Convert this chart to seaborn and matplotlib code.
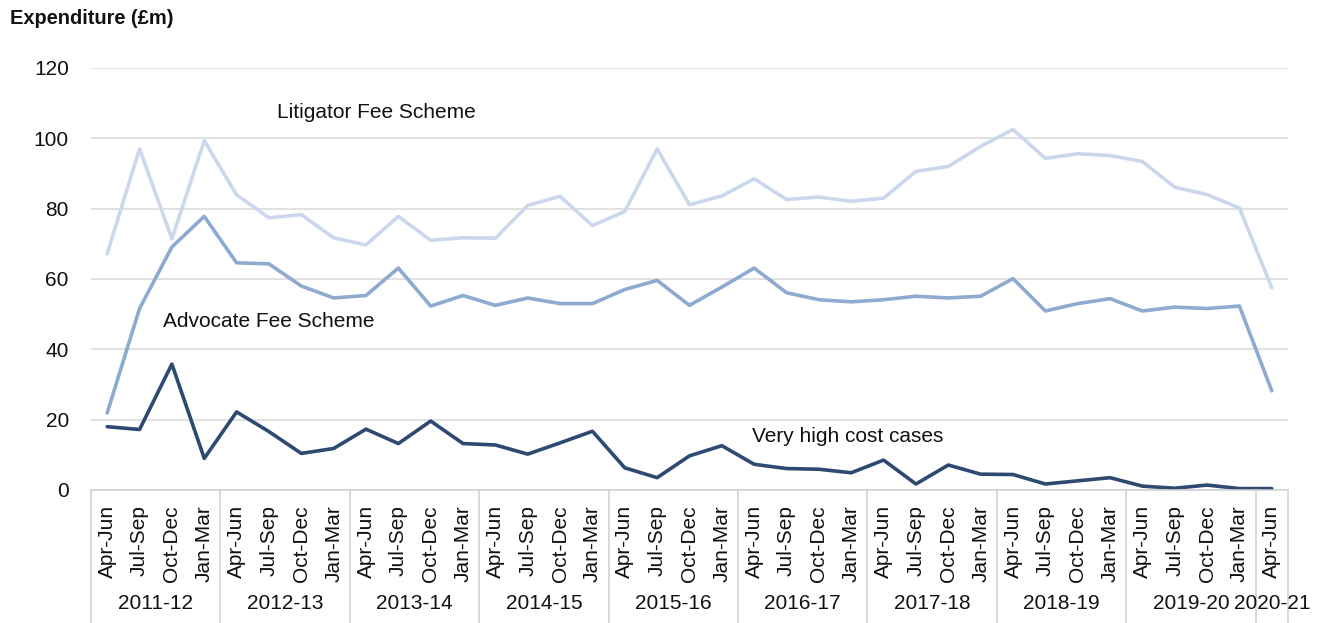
import seaborn as sns
import matplotlib.pyplot as plt
import matplotlib.transforms as mtransforms
import pandas as pd
import numpy as np

# ---------------------------
# Data (£m per quarter)
# ---------------------------
years = ["2011-12", "2012-13", "2013-14", "2014-15", "2015-16",
         "2016-17", "2017-18", "2018-19", "2019-20", "2020-21"]
quarters = ["Apr-Jun", "Jul-Sep", "Oct-Dec", "Jan-Mar"]
quarter_labels = quarters * 9 + ["Apr-Jun"]

litigator = [67.2, 97.0, 71.4, 99.3, 83.9, 77.4, 78.3, 71.7, 69.7, 77.8,
             71.0, 71.7, 71.6, 80.9, 83.5, 75.2, 79.2, 97.0, 81.1, 83.6,
             88.5, 82.6, 83.3, 82.1, 83.0, 90.6, 92.0, 97.7, 102.5, 94.3,
             95.6, 95.1, 93.4, 86.1, 84.0, 80.2, 57.5]
advocate = [21.9, 51.6, 69.1, 77.8, 64.6, 64.3, 58.0, 54.6, 55.3, 63.1,
            52.3, 55.3, 52.5, 54.6, 53.0, 53.0, 57.0, 59.6, 52.5, 57.7,
            63.1, 56.1, 54.1, 53.5, 54.1, 55.1, 54.6, 55.1, 60.1, 50.9,
            53.0, 54.4, 50.9, 52.0, 51.6, 52.3, 28.2]
vhcc = [18.0, 17.2, 35.8, 9.0, 22.2, 16.6, 10.4, 11.8, 17.3, 13.2,
        19.6, 13.2, 12.8, 10.2, 13.4, 16.7, 6.3, 3.5, 9.7, 12.6,
        7.3, 6.1, 5.9, 4.9, 8.5, 1.7, 7.1, 4.5, 4.4, 1.7,
        2.6, 3.5, 1.1, 0.5, 1.4, 0.4, 0.4]

series_names = ["Litigator Fee Scheme", "Advocate Fee Scheme", "Very high cost cases"]
colors = ["#cbd8ec", "#8eaad1", "#2e4a73"]

n = len(quarter_labels)
df = pd.DataFrame({
    "idx": np.tile(np.arange(n), 3),
    "value": litigator + advocate + vhcc,
    "series": np.repeat(series_names, n),
})

# ---------------------------
# Visualization
# ---------------------------
sns.set_style("white")
plt.rcParams["font.family"] = ["Liberation Sans", "DejaVu Sans"]

fig = plt.figure(figsize=(13.23, 6.23), dpi=100)
ax = fig.add_axes([0.0688, 0.2135, 0.9047, 0.6774])

sns.lineplot(data=df, x="idx", y="value", hue="series",
             palette=dict(zip(series_names, colors)), linewidth=2.6,
             legend=False, ax=ax)

ax.set_xlim(-0.5, n - 0.5)
ax.set_ylim(0, 120)
ax.set_yticks(range(0, 121, 20))
ax.yaxis.grid(True, color="#d9d9d9", linewidth=1.1)
ax.set_axisbelow(True)
ax.tick_params(axis="y", length=0, pad=16, labelsize=15, labelcolor="#111111")

ax.set_xticks(range(n))
ax.set_xticklabels(quarter_labels, rotation=90, fontsize=15, color="#111111")
ax.tick_params(axis="x", length=0, pad=11)
ax.set_xlabel("")
ax.set_ylabel("")

for side in ["top", "right", "left"]:
    ax.spines[side].set_visible(False)
ax.spines["bottom"].set_color("#d0d0d0")
ax.spines["bottom"].set_linewidth(1.1)

# Year groups below the quarter labels
trans = mtransforms.blended_transform_factory(ax.transData, ax.transAxes)
bounds = [-0.5 + 4 * i for i in range(10)] + [n - 0.5]
for b in bounds:
    ax.plot([b, b], [0, -0.32], transform=trans, color="#d0d0d0",
            linewidth=1.1, clip_on=False)
for i, yr in enumerate(years):
    centre = (bounds[i] + bounds[i + 1]) / 2
    ax.text(centre, -0.27, yr, transform=trans, ha="center", va="center",
            fontsize=15, color="#111111")

# Series labels
ax.text(5.25, 107.4, "Litigator Fee Scheme", fontsize=15, va="center", color="#111111")
ax.text(1.73, 47.9, "Advocate Fee Scheme", fontsize=15, va="center", color="#111111")
ax.text(19.94, 15.1, "Very high cost cases", fontsize=15, va="center", color="#111111")

fig.text(0.0076, 0.971, "Expenditure (£m)", fontsize=14.4, fontweight="bold",
         va="center", ha="left", color="#111111")

# ---------------------------
# Save chart
# ---------------------------
plt.savefig("out.png", dpi=100)
plt.close()
